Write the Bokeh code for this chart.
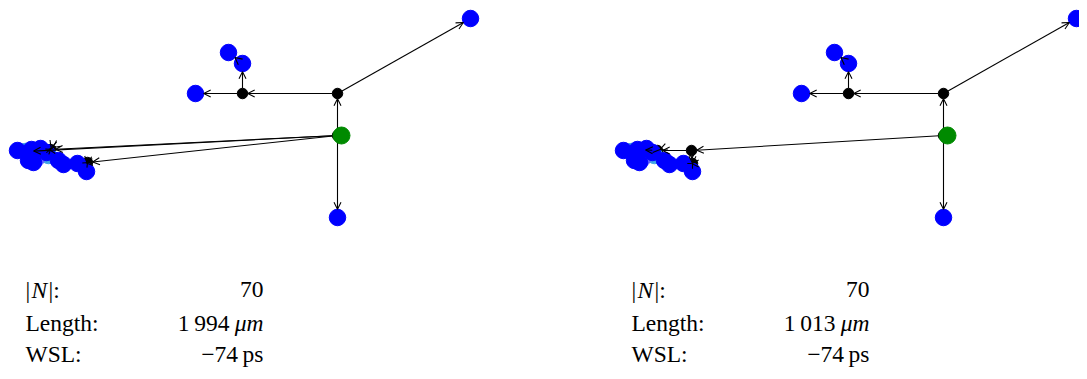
import numpy as np
from bokeh.plotting import figure
from bokeh.models import Range1d, Arrow, OpenHead, ColumnDataSource
from bokeh.core.properties import value
from bokeh.embed import file_html
from bokeh.resources import INLINE

# ---------------- data ----------------
# two routing trees for the same net; local layout units, root (driver) at (0, 0)
panel_offset_x = [0, 606]

# sinks (shared by both trees)
sink_names = ["tr", "b", "l", "u1", "u2",
              "c2", "c6", "c8", "c1", "c3", "c4", "c5", "c7", "c9", "c10", "c11", "c12", "c13"]
sink_x = [133, 0, -142, -95, -109,
          -312, -289, -301, -320, -306, -297, -291, -309, -304, -279, -274, -260, -251]
sink_y = [117, -82, 42, 72, 83,
          -16, -20, -23, -15, -14, -13, -17, -25, -27, -25, -29, -28, -36]
sink_color = ["#0000ff", "#0000ff", "#0000ff", "#0000ff", "#0000ff",
              "#3fa3e6", "#3fa3e6", "#6262ff", "#0000ff", "#0000ff", "#0000ff", "#0000ff",
              "#0000ff", "#0000ff", "#0000ff", "#0000ff", "#0000ff", "#0000ff"]

driver_xy = (4, 0)

# Steiner points per tree
steiner_names = [["R", "A", "B", "X2", "X3"], ["R", "A", "B", "D", "E", "G"]]
steiner_x = [[0, 0, -95, -287, -250], [0, 0, -95, -252, -286, -251]]
steiner_y = [[0, 42, 42, -14, -27], [0, 42, 42, -15, -15, -28]]

common_edges = [("R", "A"), ("R", "b"), ("A", "tr"), ("A", "B"),
                ("B", "l"), ("B", "u1"), ("u1", "u2")]
tree_edges = [
    common_edges + [("R", "c2"), ("R", "X2"), ("R", "X3"), ("X3", "c12"), ("X3", "c13"),
                    ("X2", "c4"), ("X2", "c5"), ("X2", "c6")],
    common_edges + [("R", "D"), ("D", "E"), ("D", "G"), ("G", "c13"), ("G", "c12"),
                    ("E", "c5"), ("E", "c3")],
]

row_labels = ["Length:", "WSL:"]
n_sinks_label = "70"
lengths = ["1\u2009994", "1\u2009013"]
length_unit = "\u03bcm"
wsl = ["\u221274\u2009ps", "\u221274\u2009ps"]

# ---------------- figure ----------------
W, H = 1079, 371
p = figure(width=W, height=H, x_range=Range1d(-337, -337 + W), y_range=Range1d(135 - H, 135),
           output_backend="svg", toolbar_location=None, min_border=0,
           x_axis_type=None, y_axis_type=None)
p.grid.visible = False
p.outline_line_color = None

R_SINK, R_STEINER = 8.2, 5.2
FONT = "Liberation Serif"
FS = "23.5px"

for t, ox in enumerate(panel_offset_x):
    pos = {}
    rad = {}
    for n, x, y in zip(sink_names, sink_x, sink_y):
        pos[n] = (x + ox, y)
        rad[n] = R_SINK
    for n, x, y in zip(steiner_names[t], steiner_x[t], steiner_y[t]):
        pos[n] = (x + ox, y)
        rad[n] = R_STEINER

    # Steiner points
    p.scatter([x + ox for x in steiner_x[t]], steiner_y[t], size=10.5,
              fill_color="black", line_color="black")
    # sinks
    p.scatter([x + ox for x in sink_x], sink_y, size=16.5,
              fill_color=sink_color, line_color=sink_color)

    x0, y0, x1, y1, hx0, hy0 = [], [], [], [], [], []
    for a, b in tree_edges[t]:
        ax, ay = pos[a]
        bx, by = pos[b]
        d = np.hypot(bx - ax, by - ay)
        ux, uy = (bx - ax) / d, (by - ay) / d
        sa = rad[a] if a != "R" else 0.0
        x0.append(ax + ux * sa); y0.append(ay + uy * sa)
        ex, ey = bx - ux * rad[b], by - uy * rad[b]
        x1.append(ex); y1.append(ey)
        hx0.append(ex - ux * 2); hy0.append(ey - uy * 2)
    p.segment(x0, y0, x1, y1, line_color="black", line_width=1.1)
    src = ColumnDataSource(dict(x0=hx0, y0=hy0, x1=x1, y1=y1))
    p.add_layout(Arrow(end=OpenHead(size=7, line_width=1.1, line_color="black"),
                       x_start="x0", y_start="y0", x_end="x1", y_end="y1",
                       line_alpha=0, source=src))

    # driver
    p.scatter([driver_xy[0] + ox], [driver_xy[1]], size=17,
              fill_color="#008a00", line_color="#008a00")

    # statistics
    lx = -312 + ox
    vx = -74 + ox
    ys = [-154, -187, -218]
    p.text([lx], [ys[0]], text=["|"], text_font=value(FONT), text_font_size=FS,
           text_baseline="alphabetic", text_align="left")
    p.text([lx + 6], [ys[0]], text=["N"], text_font=value(FONT), text_font_size=FS,
           text_font_style="italic", text_baseline="alphabetic", text_align="left")
    p.text([lx + 23], [ys[0]], text=["|:"], text_font=value(FONT), text_font_size=FS,
           text_baseline="alphabetic", text_align="left")
    p.text([lx, lx], ys[1:], text=row_labels, text_font=value(FONT), text_font_size=FS,
           text_baseline="alphabetic", text_align="left")
    p.text([vx], [ys[0]], text=[n_sinks_label], text_font=value(FONT), text_font_size=FS,
           text_baseline="alphabetic", text_align="right")
    p.text([vx - 34], [ys[1]], text=[lengths[t]], text_font=value(FONT), text_font_size=FS,
           text_baseline="alphabetic", text_align="right")
    p.text([vx], [ys[1]], text=[length_unit], text_font=value(FONT), text_font_size=FS,
           text_font_style="italic", text_baseline="alphabetic", text_align="right")
    p.text([vx], [ys[2]], text=[wsl[t]], text_font=value(FONT), text_font_size=FS,
           text_baseline="alphabetic", text_align="right")

open("out.html", "w").write(file_html(p, INLINE))
